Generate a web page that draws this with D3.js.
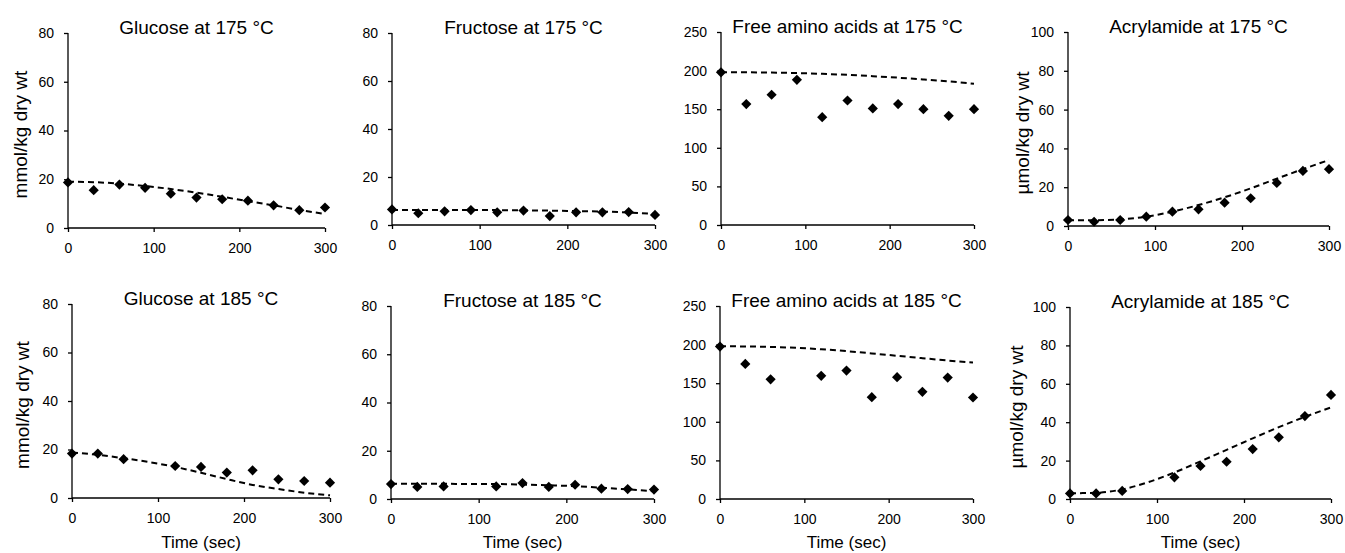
<!DOCTYPE html>
<html>
<head>
<meta charset="utf-8">
<script src="https://cdn.jsdelivr.net/npm/d3@7"></script>
<style>
  body { margin: 0; background: #fff; }
  text { font-family: "Liberation Sans", Arial, sans-serif; fill: #000; }
</style>
</head>
<body>
<script>
const panel_width = 1345;
const panel_height = 553;

// sampling times (sec)
const times = [0, 30, 60, 90, 120, 150, 180, 210, 240, 270, 300];
const times185 = [0, 30, 60, 120, 150, 180, 210, 240, 270, 300];
const modelTimes = [0, 30, 60, 90, 120, 150, 180, 210, 240, 270, 300];

// measured values
const glucose175 = [18.7, 15.5, 17.8, 16.5, 14.1, 12.5, 11.8, 11.2, 9.3, 7.3, 8.4];
const fructose175 = [6.5, 4.9, 5.7, 6.2, 5.3, 6.0, 3.7, 5.3, 5.3, 5.4, 4.2];
const aminoacids175 = [197.7, 156.6, 168.7, 188, 139.7, 161.3, 151, 156.6, 150, 141.4, 150];
const acrylamide175 = [3.1, 2.2, 3.1, 4.8, 7.4, 8.6, 12, 14.3, 22.2, 28.4, 29.3];

const glucose185 = [18.3, 18.3, 16, 13.2, 12.8, 10.5, 11.4, 7.7, 7.0, 6.3];
const fructose185 = [6.2, 5.0, 5.2, 5.2, 6.6, 5.0, 5.9, 4.3, 4.1, 3.9];
const aminoacids185 = [197.4, 175, 155, 159.5, 166.4, 131.9, 157.8, 138.8, 157.3, 131.5];
const acrylamide185 = [2.9, 2.9, 4.2, 11.3, 17.2, 19.4, 26, 32.1, 43.2, 54.2];

// model predictions (dashed)
const glucose175Model = [19, 18.8, 18.2, 17.2, 16, 14.5, 12.8, 11, 9.3, 7.4, 5.8];
const fructose175Model = [6.3, 6.3, 6.3, 6.2, 6.2, 6.1, 6.0, 5.8, 5.6, 5.2, 4.6];
const aminoacids175Model = [198, 197.8, 197.4, 196.8, 195.8, 194.5, 192.8, 190.8, 188.5, 186, 183];
const acrylamide175Model = [3, 3, 3.4, 4.8, 7.4, 10.8, 14.8, 19.4, 24.4, 29.3, 34];

const glucose185Model = [18.8, 17.8, 16.4, 14.8, 12.8, 10.4, 7.8, 5.4, 3.7, 2.2, 1.1];
const fructose185Model = [6.3, 6.3, 6.3, 6.2, 6.2, 6.0, 5.7, 5.3, 4.7, 4.0, 3.2];
const aminoacids185Model = [198, 197.6, 197, 195.8, 194, 191.5, 188.6, 185.5, 182.4, 179.4, 176.7];
const acrylamide185Model = [3, 3.2, 5, 8.8, 13.8, 19.6, 25.6, 31.6, 37.4, 42.8, 47.7];

const panelTitles = [
    "Glucose at 175 °C", "Fructose at 175 °C", "Free amino acids at 175 °C", "Acrylamide at 175 °C",
    "Glucose at 185 °C", "Fructose at 185 °C", "Free amino acids at 185 °C", "Acrylamide at 185 °C"
];
const yMax = [80, 80, 250, 100, 80, 80, 250, 100];
const yTicks = [
    [0, 20, 40, 60, 80], [0, 20, 40, 60, 80], [0, 50, 100, 150, 200, 250], [0, 20, 40, 60, 80, 100],
    [0, 20, 40, 60, 80], [0, 20, 40, 60, 80], [0, 50, 100, 150, 200, 250], [0, 20, 40, 60, 80, 100]
];
const xTicks = [0, 100, 200, 300];
const yLabels = ["mmol/kg dry wt", "", "", "µmol/kg dry wt", "mmol/kg dry wt", "", "", "µmol/kg dry wt"];

const measured = [glucose175, fructose175, aminoacids175, acrylamide175,
                  glucose185, fructose185, aminoacids185, acrylamide185];
const measuredTimes = [times, times, times, times, times185, times185, times185, times185];
const models = [glucose175Model, fructose175Model, aminoacids175Model, acrylamide175Model,
                glucose185Model, fructose185Model, aminoacids185Model, acrylamide185Model];

// plot boxes: left, right, top, bottom (pixels), y label x
const boxes = [
    [68, 325, 33, 228, 20], [392, 655, 33, 225, 0], [721, 974, 32, 225, 0], [1068, 1329, 32, 226, 1022],
    [72, 330, 304, 498, 22], [391, 654, 306, 499, 0], [720, 973, 306, 499, 0], [1070, 1331, 307, 499, 1016]
];

const svg = d3.select("body")
    .append("svg")
    .attr("width", panel_width)
    .attr("height", panel_height);

const diamond = d3.symbol().type(d3.symbolSquare).size(52);

panelTitles.forEach((title, i) => {
    const [left, right, top, bottom, labelX] = boxes[i];
    const bottomRow = i >= 4;

    const x = d3.scaleLinear().domain([0, 300]).range([left, right]);
    const y = d3.scaleLinear().domain([0, yMax[i]]).range([bottom, top]);

    const g = svg.append("g").attr("class", "panel");

    const yAxis = g.append("g")
        .attr("transform", `translate(${left},0)`)
        .call(d3.axisLeft(y).tickValues(yTicks[i]).tickSize(4).tickPadding(10).tickFormat(d3.format("d")));

    const xAxis = g.append("g")
        .attr("transform", `translate(0,${bottom})`)
        .call(d3.axisBottom(x).tickValues(xTicks).tickSize(4).tickPadding(11).tickFormat(d3.format("d")));

    [yAxis, xAxis].forEach(ax => {
        ax.select(".domain").attr("stroke", "#000").attr("stroke-width", 1.3);
        ax.selectAll(".tick line").attr("stroke", "#000").attr("stroke-width", 1.3);
        ax.selectAll(".tick text")
            .attr("font-size", "14px")
            .attr("font-family", "'Liberation Sans', Arial, sans-serif")
            .attr("fill", "#000");
    });
    // domain without end caps
    yAxis.select(".domain").attr("d", `M0,${bottom}V${top}`);
    xAxis.select(".domain").attr("d", `M${left},0H${right}`);

    g.append("text")
        .attr("x", (left + right) / 2)
        .attr("y", top + 1)
        .attr("text-anchor", "middle")
        .attr("font-size", "19px")
        .text(title);

    if (yLabels[i]) {
        g.append("text")
            .attr("transform", `translate(${labelX},${(top + bottom) / 2 + 4}) rotate(-90)`)
            .attr("text-anchor", "middle")
            .attr("dominant-baseline", "central")
            .attr("font-size", "19px")
            .text(yLabels[i]);
    }

    if (bottomRow) {
        g.append("text")
            .attr("x", (left + right) / 2)
            .attr("y", 548)
            .attr("text-anchor", "middle")
            .attr("font-size", "17px")
            .text("Time (sec)");
    }

    const line = d3.line()
        .x((d, j) => x(modelTimes[j]))
        .y(d => y(d))
        .curve(d3.curveMonotoneX);

    g.append("path")
        .datum(models[i])
        .attr("d", line)
        .attr("fill", "none")
        .attr("stroke", "#000")
        .attr("stroke-width", 2)
        .attr("stroke-dasharray", "6,4");

    g.selectAll(".pt")
        .data(measured[i])
        .join("path")
        .attr("class", "pt")
        .attr("d", diamond)
        .attr("transform", (d, j) => `translate(${x(measuredTimes[i][j])},${y(d)}) rotate(45)`)
        .attr("fill", "#000");
});
</script>
</body>
</html>
